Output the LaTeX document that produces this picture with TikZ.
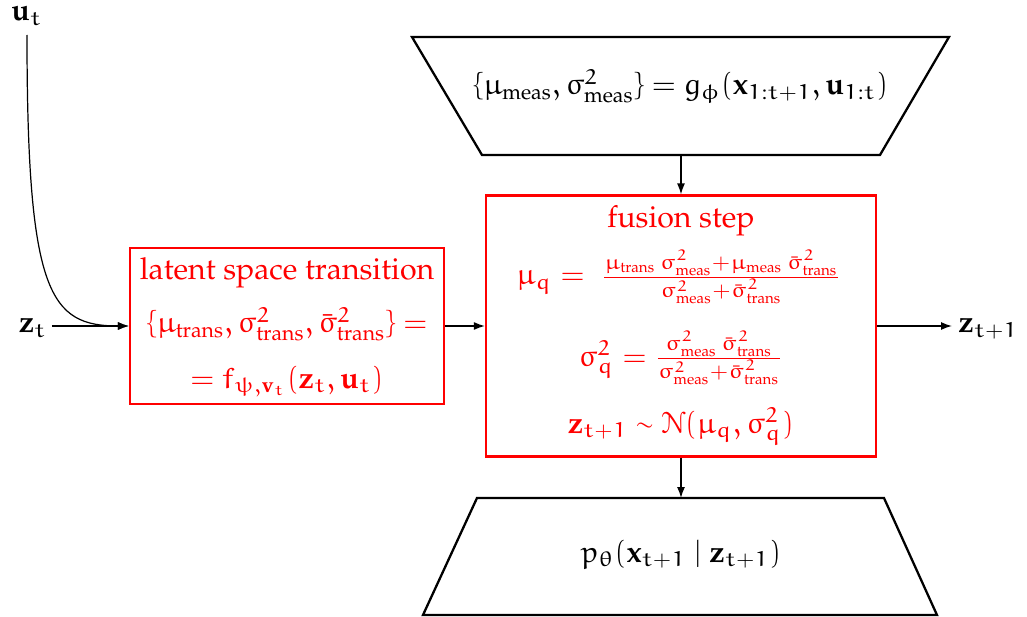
\documentclass[tikz,border=0pt]{standalone}
\usepackage{amsmath}
\IfFileExists{t1ppl.fd}{\usepackage[T1]{fontenc}\renewcommand{\rmdefault}{ppl}}{}
\IfFileExists{euler.sty}{\usepackage{euler}}{}
\IfFileExists{eucal.sty}{\usepackage[mathcal]{eucal}}{}
\DeclareMathAlphabet{\mathbf}{T1}{ppl}{b}{n}
\DeclareMathAlphabet{\mathrm}{T1}{ppl}{m}{n}
\newcommand{\tr}{\mathrm{trans}}
\newcommand{\ms}{\mathrm{meas}}
\usetikzlibrary{arrows.meta}
\tikzset{
  trap/.style={draw=black, line width=0.75pt, line join=miter},
  redbox/.style={draw=red, line width=0.75pt, inner sep=0pt},
  conn/.style={draw=black, line width=0.4pt, -{Latex[length=3.6pt,width=2.6pt]}},
  txt/.style={anchor=base, inner sep=0pt, font=\normalsize},
  rtxt/.style={txt, text=red},
}
\begin{document}
\begin{tikzpicture}[x=0.33pt,y=-0.33pt]
\useasboundingbox (0,0) rectangle (1027,617);
% top trapezoid (encoder)
\draw[trap] (412,37) -- (949,37) -- (880,155) -- (482,155) -- cycle;
\coordinate (enc) at (681,155);
\node[txt] (enctxt) at (681,95) {$\{\mu_{\ms}, \sigma^2_{\ms}\} = g_\phi(\mathbf{x}_{1:t+1}, \mathbf{u}_{1:t})$};
% bottom trapezoid (decoder)
\draw[trap] (477,498) -- (884,498) -- (937,615) -- (423,615) -- cycle;
\coordinate (dec) at (681,498);
\node[txt] (dectxt) at (681,562) {$p_\theta(\mathbf{x}_{t+1} \mid \mathbf{z}_{t+1})$};
% latent transition box
\node[redbox, minimum width=314*0.33pt, minimum height=156*0.33pt] (lat) at (287,326) {};
\node[rtxt] (lat1) at (287,280) {latent space transition};
\node[rtxt] (lat2) at (287,333) {$\{\mu_{\tr}, \sigma^2_{\tr}, \bar\sigma^2_{\tr}\} =$};
\node[rtxt] (lat3) at (287,388) {$= f_{\psi,\mathbf{v}_t}(\mathbf{z}_t, \mathbf{u}_t)$};
% fusion box
\node[redbox, minimum width=390*0.33pt, minimum height=261*0.33pt] (fus) at (681,326) {};
\node[rtxt] (fus1) at (681,227) {fusion step};
\node[rtxt] (fus2) at (679,285) {$\mu_q = \;\frac{\mu_{\tr}\,\sigma^2_{\ms} + \mu_{\ms}\,\bar\sigma^2_{\tr}}{\sigma^2_{\ms} + \bar\sigma^2_{\tr}}$};
\node[rtxt] (fus3) at (681,366) {$\sigma^2_q = \frac{\sigma^2_{\ms}\,\bar\sigma^2_{\tr}}{\sigma^2_{\ms} + \bar\sigma^2_{\tr}}$};
\node[rtxt] (fus4) at (681,433) {$\mathbf{z}_{t+1} \sim \mathcal{N}(\mu_q, \sigma^2_q)$};
% inputs / outputs
\node[txt] (ut) at (27,21) {$\mathbf{u}_t$};
\node[txt] (zt) at (33,333) {$\mathbf{z}_t$};
\node[txt, anchor=base west] (ztt) at (958,333) {$\mathbf{z}_{t+1}$};
\coordinate (utb) at (27,35);
\coordinate (zte) at (52,326);
\coordinate (zout) at (952,326);
% connectors
\draw[conn] (zte) -- (lat.west);
\draw[conn] (utb) .. controls (27,295) and (50,326) .. (lat.west);
\draw[conn] (lat.east) -- (fus.west);
\draw[conn] (fus.east) -- (zout);
\draw[conn] (enc) -- (fus.north);
\draw[conn] (fus.south) -- (dec);
\end{tikzpicture}
\end{document}
